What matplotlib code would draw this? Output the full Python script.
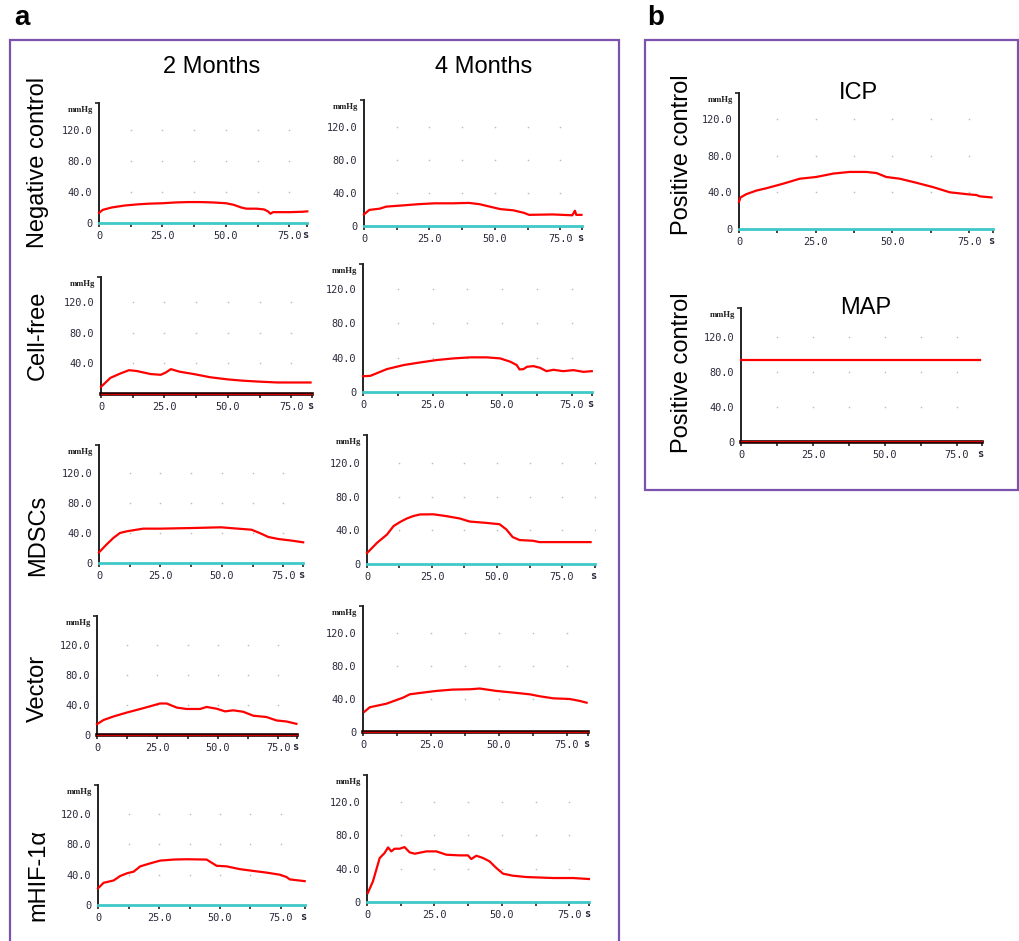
import matplotlib
matplotlib.use("Agg")
import matplotlib.pyplot as plt
from matplotlib.patches import Rectangle
import numpy as np

W, H = 1020, 941

# ---------------- data (time in s, pressure in mmHg) ----------------
nc2_t = [0, 1.5, 5, 10, 15, 20, 25, 30, 35, 40, 45, 50, 53, 56, 58, 62, 65, 66.5, 67.5, 68.5, 75, 80, 82]
nc2_v = [13, 17, 20, 22.5, 24, 25, 25.5, 26.5, 27, 27, 26.5, 25.5, 23.5, 20, 18.5, 18.5, 17.5, 15, 12, 14, 14, 14.5, 15]

nc4_t = [0, 2, 6, 8.5, 15, 21, 27, 34, 40, 44, 48, 52, 57, 61, 63, 72, 79.5, 80.5, 81, 83]
nc4_v = [14, 19.5, 21, 23.5, 25, 26.5, 27.5, 27.5, 28, 26.5, 23.5, 20.5, 19, 16, 13.5, 14, 13, 18.5, 13.5, 13.5]

cf2_t = [0, 3.7, 7.6, 11, 14, 19.5, 23.5, 25.5, 27.5, 31, 36.5, 43, 50, 56, 63, 69.5, 82.5]
cf2_v = [9.3, 21, 26.7, 31, 30, 26, 25, 28, 32.4, 29, 26, 21.8, 19, 17.3, 16, 15, 15]

cf4_t = [0, 2.6, 8.6, 14.6, 20.6, 26.6, 32.6, 38.6, 44.5, 49.3, 53, 55.3, 56.3, 57.7, 59, 61.3, 63.7, 66, 68.5, 72, 75.7, 79.3, 82.3]
cf4_v = [18.4, 18.8, 26.7, 31.4, 34.5, 37.3, 39.2, 40.4, 40.4, 39.2, 35.3, 31.4, 26.3, 26.7, 29.4, 30.2, 28.2, 24.3, 25.9, 24.3, 25.5, 23.5, 24.3]

md2_t = [0, 3, 5.8, 8.5, 11.2, 15.3, 18, 25, 38.6, 49.6, 56.4, 62, 66, 68.8, 72.9, 78.4, 83]
md2_v = [14.2, 24.4, 33.3, 40, 42.2, 44.4, 45.8, 45.8, 46.7, 47.6, 45.8, 44.4, 39, 34.7, 32, 29.8, 27.6]

md4_t = [0, 1.3, 3.8, 7.7, 10.2, 12.8, 15.3, 17.9, 20.4, 25.5, 30.6, 35.7, 39.5, 45.9, 51, 53.6, 56, 58.7, 63.8, 66.3, 86]
md4_v = [13, 17, 25, 35, 45, 50, 54, 57, 58.8, 59, 56.8, 54, 50.4, 48.8, 47.2, 41, 32, 28.4, 27.6, 26, 26]

ve2_t = [0, 2.7, 6.9, 12.4, 17.9, 22, 26, 28.8, 33, 37, 42.6, 45.3, 49.5, 52.9, 56.3, 60.4, 64.6, 70, 74.2, 78.3, 82.4]
ve2_v = [14.4, 20, 24.8, 30, 34.7, 38.3, 42, 42, 36.5, 34.7, 34.7, 37.4, 35, 31.5, 32.9, 31, 25.7, 24, 19.4, 18, 14.9]

ve4_t = [0.5, 2.5, 8.6, 14.7, 17.2, 20.9, 27, 33, 39.3, 42.9, 49, 55.2, 61.3, 65, 70, 76, 79.8, 82.2]
ve4_v = [24.5, 30, 34.3, 41.6, 45.7, 47.3, 49.8, 51.4, 51.8, 52.7, 49.8, 47.8, 45.7, 43.3, 40.8, 40, 37.6, 35.5]

hi2_t = [0, 2.3, 6.4, 9.1, 11.9, 14.6, 17.3, 21.4, 25.5, 31, 36.4, 44.5, 48.6, 52.7, 58.2, 63.6, 69, 74.5, 77.2, 78.6, 84.7]
hi2_v = [22, 29.3, 32.4, 38.3, 41.9, 44, 51, 55, 58.6, 60, 60.4, 60, 51.8, 51, 47.3, 45, 42.8, 40, 37, 33.8, 31.5]

hi4_t = [0.3, 2.2, 4.7, 6.5, 7.8, 9, 10.2, 12.1, 13.9, 15.8, 17.7, 22, 25.7, 29.4, 34.3, 37.4, 38.6, 40.5, 43, 45.4, 47.9, 50.4, 54, 59, 68.9, 76.3, 82.2]
hi4_v = [10.8, 24.8, 52.8, 58.8, 65.6, 60.8, 64, 64, 66, 59.6, 58, 60.8, 60.8, 56.8, 56, 56, 51.6, 55.6, 52.8, 48.8, 40.8, 34, 31.6, 30, 28.8, 28.8, 27.6]

icp_t = [0, 0.5, 2.4, 5.7, 8.9, 14.3, 19.8, 25.2, 30.7, 36.1, 41.5, 44.8, 48, 52.4, 57.8, 63.3, 68.7, 74.1, 77.4, 78.5, 82.3]
icp_v = [29.6, 34.4, 38, 41.9, 44.4, 49.3, 54.8, 56.7, 60.4, 62.2, 62.2, 61, 56.7, 54.8, 50.4, 45.6, 40, 38, 37, 35.6, 34.4]

map_t = [0, 83]
map_v = [94, 94]

x_tick_vals = [0, 25, 50, 75]
x_tick_labels = ["0", "25.0", "50.0", "75.0"]
y_tick_vals = [0, 40, 80, 120]
y_tick_labels = ["0", "40.0", "80.0", "120.0"]

col_titles = ["2 Months", "4 Months"]
row_titles = ["Negative control", "Cell-free", "MDSCs", "Vector", "mHIF-1α"]

# ---------------- layout (pixels) ----------------
# (x0, y0, px per 25 s, px per 40 mmHg, x end, y top), dark baseline, show y zero
panels = [
    (nc2_t, nc2_v, (99, 223, 63.5, 31.0, 307, 103), False, True),
    (nc4_t, nc4_v, (364, 226, 65.5, 33.0, 582, 100), False, True),
    (cf2_t, cf2_v, (101, 394, 63.5, 30.7, 312, 277), True, False),
    (cf4_t, cf4_v, (363, 392, 69.5, 34.3, 592, 264), False, True),
    (md2_t, md2_v, (99, 563, 61.5, 30.0, 303, 445), False, True),
    (md4_t, md4_v, (367, 564, 65.0, 33.7, 595, 435), False, True),
    (ve2_t, ve2_v, (97, 735, 60.5, 30.0, 297, 616), True, True),
    (ve4_t, ve4_v, (363, 732, 68.0, 33.0, 588, 606), True, True),
    (hi2_t, hi2_v, (98, 905, 61.0, 30.3, 305, 785), False, True),
    (hi4_t, hi4_v, (367, 902, 67.5, 33.3, 589, 775), False, True),
    (icp_t, icp_v, (739, 229, 76.7, 36.7, 993, 93), False, True),
    (map_t, map_v, (741, 442, 72.0, 35.0, 982, 308), True, True),
]

fig = plt.figure(figsize=(W / 100, H / 100), dpi=100)
fig.patch.set_facecolor("white")

tick_col = "#2a2a3c"
mono = ["DejaVu Sans Mono", "Liberation Mono"]

for t, v, (x0, y0, sx, sy, xe, yt), dark, yzero in panels:
    xmax = (xe - x0) / sx * 25.0
    ymax = (y0 - yt) / sy * 40.0
    ax = fig.add_axes([x0 / W, 1 - y0 / H, (xe - x0) / W, (y0 - yt) / H])
    ax.set_xlim(0, xmax)
    ax.set_ylim(0, ymax)
    ax.patch.set_alpha(0)
    for s in ("top", "right"):
        ax.spines[s].set_visible(False)
    ax.spines["left"].set_color("#222222")
    ax.spines["left"].set_linewidth(1.4)
    if dark:
        ax.spines["bottom"].set_color("#1a0000")
        ax.spines["bottom"].set_linewidth(2.6)
        ax.plot([0, xmax], [0.6, 0.6], color="#d00000", lw=0.9, clip_on=False, zorder=4)
    else:
        ax.spines["bottom"].set_color("#40c8c8")
        ax.spines["bottom"].set_linewidth(2.0)
    # dot grid
    gx = [g for g in np.arange(12.5, xmax, 12.5)]
    gy = [40, 80, 120]
    GX, GY = np.meshgrid(gx, gy)
    ax.scatter(GX.ravel(), GY.ravel(), s=1.4, color="#bdbdbd", lw=0, zorder=1)
    # signal
    ax.plot(t, v, color="#ff0000", lw=1.6, zorder=5, clip_on=False)
    # ticks
    ax.set_xticks(x_tick_vals)
    ax.set_xticklabels(x_tick_labels)
    ax.set_xticks([12.5, 37.5, 62.5, xmax], minor=True)
    if yzero:
        ax.set_yticks(y_tick_vals)
        ax.set_yticklabels(y_tick_labels)
    else:
        ax.set_yticks(y_tick_vals[1:])
        ax.set_yticklabels(y_tick_labels[1:])
    ax.set_yticks([ymax], minor=True)
    ax.tick_params(axis="x", which="both", direction="out", length=3, width=1.2,
                   color="#222222", pad=3, labelsize=7.4, labelcolor=tick_col)
    ax.tick_params(axis="y", which="major", length=0, pad=5, labelsize=7.4, labelcolor=tick_col)
    ax.tick_params(axis="y", which="minor", length=3, width=1.2, color="#222222")
    for lab in ax.get_xticklabels() + ax.get_yticklabels():
        lab.set_family(mono)
    # unit labels
    ax.annotate("s", xy=(xmax, 0), xycoords="data", xytext=(-1, -5.2), textcoords="offset points",
                ha="center", va="top", fontsize=7.4, family=mono, color=tick_col,
                fontweight="bold", annotation_clip=False)
    ax.annotate("mmHg", xy=(0, ymax), xycoords="data", xytext=(-4, -5), textcoords="offset points",
                ha="right", va="center", fontsize=6.2, family=["Liberation Serif", "DejaVu Serif"],
                fontweight="bold", color="#222222", annotation_clip=False)


def fx(x):
    return x / W


def fy(y):
    return 1 - y / H


purple = "#7b52ae"
fig.add_artist(Rectangle((fx(10), fy(950)), fx(619) - fx(10), fy(40) - fy(950),
                         transform=fig.transFigure, fill=False, ec=purple, lw=1.6))
fig.add_artist(Rectangle((fx(645), fy(490)), fx(1018) - fx(645), fy(40) - fy(490),
                         transform=fig.transFigure, fill=False, ec=purple, lw=1.6))

sans = ["Liberation Sans", "DejaVu Sans"]
big = 17
fig.text(fx(22), fy(18), "a", fontsize=20, fontweight="bold", family=sans, ha="center", va="center")
fig.text(fx(656), fy(18), "b", fontsize=20, fontweight="bold", family=sans, ha="center", va="center")

fig.text(fx(212), fy(67), col_titles[0], fontsize=big, family=sans, ha="center", va="center")
fig.text(fx(484), fy(67), col_titles[1], fontsize=big, family=sans, ha="center", va="center")

row_y = [162, 335, 535, 688, 875]
for name, yy in zip(row_titles, row_y):
    fig.text(fx(38), fy(yy), name, fontsize=big, family=sans, rotation=90, ha="center", va="center")

fig.text(fx(682), fy(155), "Positive control", fontsize=big, family=sans, rotation=90, ha="center", va="center")
fig.text(fx(682), fy(373), "Positive control", fontsize=big, family=sans, rotation=90, ha="center", va="center")
fig.text(fx(858), fy(93), "ICP", fontsize=big, family=sans, ha="center", va="center")
fig.text(fx(866), fy(308), "MAP", fontsize=big, family=sans, ha="center", va="center")

fig.savefig("out.png", dpi=100, facecolor="white")
